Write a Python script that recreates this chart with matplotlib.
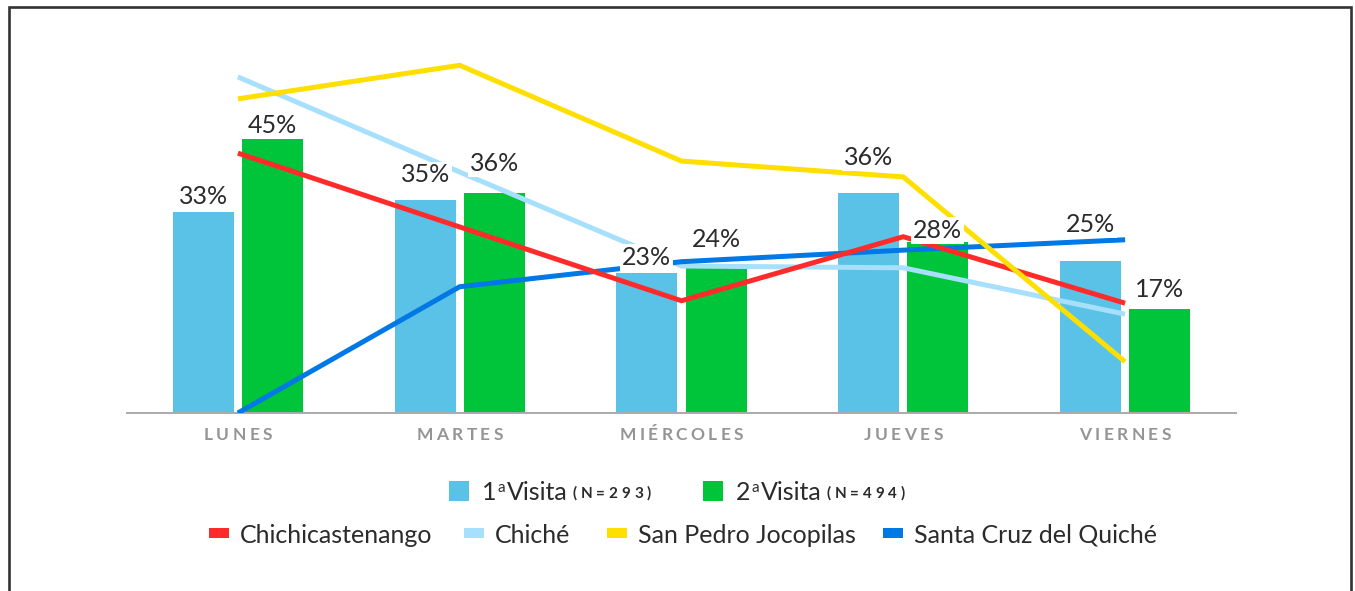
import matplotlib
matplotlib.use("Agg")
import matplotlib.pyplot as plt
from matplotlib.lines import Line2D
from matplotlib.patches import Rectangle
from matplotlib.transforms import IdentityTransform
import numpy as np

# ---- data -------------------------------------------------------------
days = ["LUNES", "MARTES", "MIÉRCOLES", "JUEVES", "VIERNES"]

visit1 = [33, 35, 23, 36, 25]          # 1ª visita (N=293)
visit2 = [45, 36, 24, 28, 17]          # 2ª visita (N=494)
visit_names = ["1", "2"]
visit_n = ["(N=293)", "(N=494)"]

chichicastenango = [42.6, 30.5, 18.4, 28.9, 18.0]
chiche = [55.1, 39.5, 24.1, 23.8, 16.2]
san_pedro_jocopilas = [51.5, 57.0, 41.3, 38.7, 8.4]
santa_cruz_del_quiche = [0.0, 20.7, 24.8, 26.7, 28.4]
towns = ["Chichicastenango", "Chiché", "San Pedro Jocopilas", "Santa Cruz del Quiché"]

# ---- styling ----------------------------------------------------------
W, H = 1355, 591
FONT = "Lato"
TEXT = "#2b2b2b"
C_V1, C_V2 = "#5bc2e7", "#00c43a"
town_colors = ["#ff2b2b", "#a6e0fc", "#ffdf00", "#0078e6"]
town_z = [5, 3, 6, 4]
# vertical gap (px) between bar top and its value label
gap_v1 = [8, 17, 8, 28, 29]
gap_v2 = [5.5, 22, 19.5, 4.5, 12]

plt.rcParams["font.family"] = [FONT, "DejaVu Sans"]

fig = plt.figure(figsize=(W / 100, H / 100), dpi=100)
fig.patch.set_facecolor("white")

PX_PER_UNIT = 6.1
ax_left, ax_right, base_y, top_y = 127, 1236, 413, 50
ax = fig.add_axes([ax_left / W, 1 - base_y / H,
                   (ax_right - ax_left) / W, (base_y - top_y) / H])
ax.set_xlim(-0.5, len(days) - 0.5)
ax.set_ylim(0, (base_y - top_y) / PX_PER_UNIT)

x = np.arange(len(days))
bw, off = 0.275, 0.156
ax.bar(x - off, visit1, bw, color=C_V1, zorder=2)
ax.bar(x + off, visit2, bw, color=C_V2, zorder=2)

series = [chichicastenango, chiche, san_pedro_jocopilas, santa_cruz_del_quiche]
for vals, col, z in zip(series, town_colors, town_z):
    ax.plot(x, vals, color=col, lw=3.6, solid_capstyle="butt",
            solid_joinstyle="miter", zorder=z)

label_kw = dict(ha="center", va="baseline", fontsize=18, color=TEXT,
                textcoords="offset pixels", zorder=10,
                bbox=dict(boxstyle="square,pad=0.08", fc="white", ec="none"))
for xi, v, g in zip(x - off, visit1, gap_v1):
    ax.annotate(f"{v}%", (xi, v), xytext=(0, g), **label_kw)
for xi, v, g in zip(x + off, visit2, gap_v2):
    ax.annotate(f"{v}%", (xi, v), xytext=(0, g), **label_kw)

for s in ["left", "right", "top"]:
    ax.spines[s].set_visible(False)
ax.spines["bottom"].set_color("#aaaaaa")
ax.spines["bottom"].set_linewidth(1.4)
ax.set_xticks([])
ax.set_yticks([])
ax.patch.set_alpha(0)

renderer = fig.canvas.get_renderer()
ident = IdentityTransform()


def text_px(xp, yp, s, **kw):
    """Place text at image pixel coords (origin top-left)."""
    return fig.text(xp, H - yp, s, transform=ident, **kw)


def width_of(s, **kw):
    t = fig.text(0, 0, s, transform=ident, **kw)
    w = t.get_window_extent(renderer).width
    t.remove()
    return w


def tracked(xp, yp, s, track, ha="left", **kw):
    widths = [width_of(ch, **kw) for ch in s]
    total = sum(widths) + track * (len(s) - 1)
    start = xp - total / 2 if ha == "center" else xp
    cur = start
    for ch, w in zip(s, widths):
        text_px(cur, yp, ch, ha="left", va="baseline", **kw)
        cur += w + track
    return start + total


# category labels
cat_kw = dict(fontsize=12.5, fontweight="bold", color="#959595")
for i, d in enumerate(days):
    xd = ax.transData.transform((i, 0))[0]
    tracked(xd, 440, d, 3.4, ha="center", **cat_kw)

# legend: visits
for sq_x, col, num, nlab in zip([449, 703], [C_V1, C_V2], visit_names, visit_n):
    fig.add_artist(Rectangle((sq_x, H - 501), 20, 20, transform=ident,
                             fc=col, ec="none"))
    cx = sq_x + 33
    text_px(cx, 500, num, fontsize=18, color=TEXT, va="baseline")
    cx += width_of(num, fontsize=18) + 0.5
    text_px(cx, 492, "a", fontsize=11, color=TEXT, va="baseline")
    cx += width_of("a", fontsize=11) + 2
    text_px(cx, 500, "Visita", fontsize=18, color=TEXT, va="baseline")
    cx += width_of("Visita", fontsize=18) + 5
    tracked(cx, 497.5, nlab, 3.9, fontsize=11, fontweight="bold", color=TEXT)

# legend: towns
for sw_x, col, name in zip([209, 464, 607, 883], town_colors, towns):
    fig.add_artist(Rectangle((sw_x, H - 538), 20, 10, transform=ident,
                             fc=col, ec="none"))
    text_px(sw_x + 31, 543, name, fontsize=18, color=TEXT, va="baseline")

# outer frame (open at the bottom)
fig.add_artist(Line2D([8.5, 8.5, 1351, 1351], [-10, H - 6.5, H - 6.5, -10],
                      transform=ident, color="#333333", lw=1.9,
                      solid_joinstyle="miter"))

fig.savefig("out.png", dpi=100, facecolor="white")
